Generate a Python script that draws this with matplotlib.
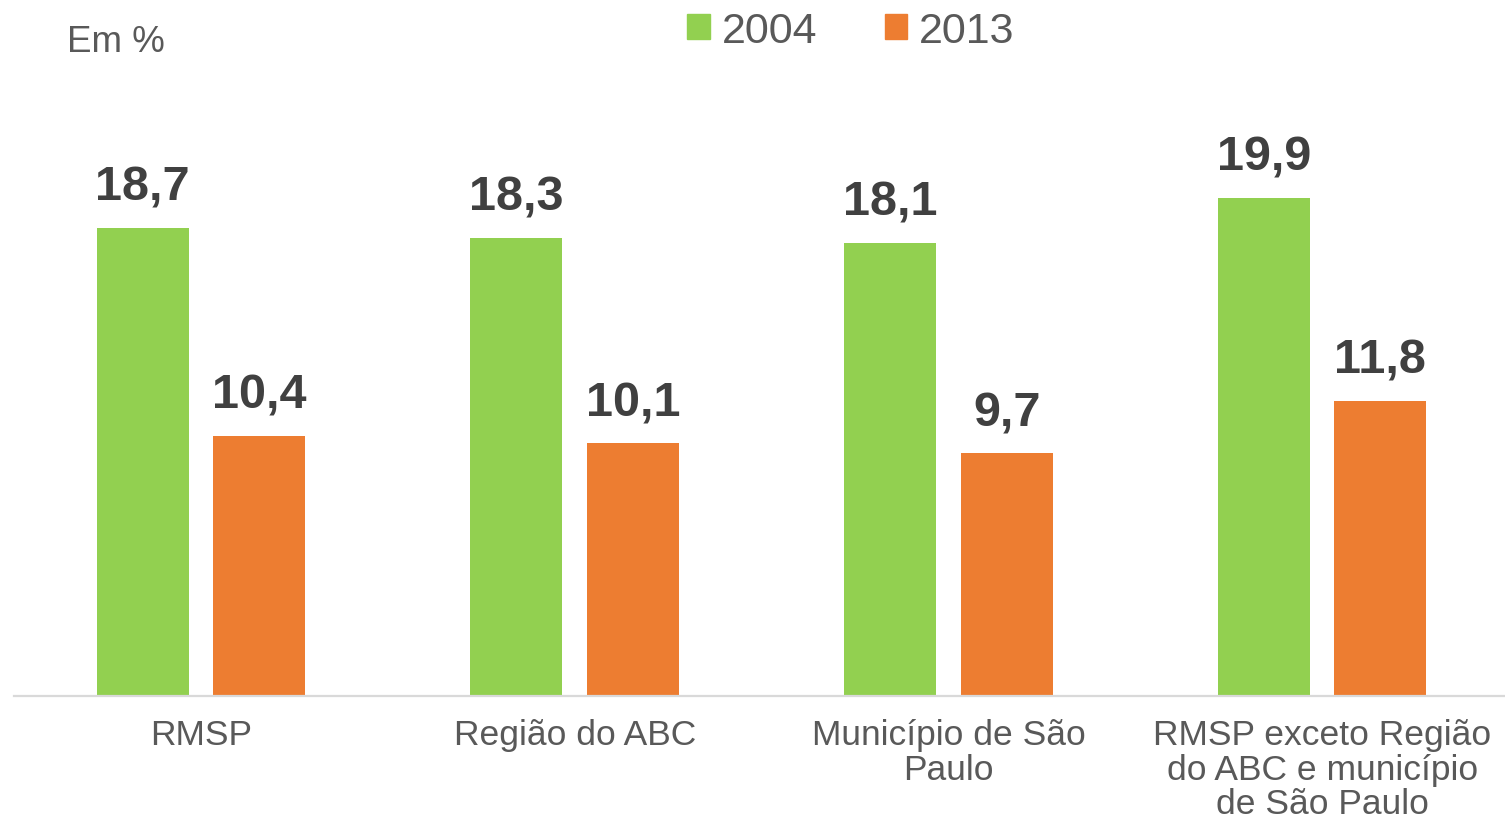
import matplotlib.pyplot as plt
import numpy as np

plt.rcParams['font.family'] = ['Liberation Sans', 'DejaVu Sans']

# Data
categorias = ['RMSP', 'Região do ABC', 'Município de São\nPaulo',
              'RMSP exceto Região\ndo ABC e município\nde São Paulo']
anos = ['2004', '2013']
valores_2004 = [18.7, 18.3, 18.1, 19.9]
valores_2013 = [10.4, 10.1, 9.7, 11.8]

cores = ['#92D050', '#ED7D31']

fig = plt.figure(figsize=(15.05, 8.29), dpi=100)
ax = fig.add_axes([14 / 1505, 132 / 829, 1495 / 1505, 697 / 829])

x = np.arange(len(categorias))
largura = 0.246
desloc = 0.156

for serie, cor, sinal in [(valores_2004, cores[0], -1), (valores_2013, cores[1], 1)]:
    barras = ax.bar(x + sinal * desloc, serie, width=largura, color=cor)
    for b, v in zip(barras, serie):
        ax.annotate(f'{v:.1f}'.replace('.', ','),
                    (b.get_x() + b.get_width() / 2, v),
                    xytext=(0, 13), textcoords='offset points',
                    ha='center', va='bottom', fontsize=35, fontweight='bold',
                    color='#404040')

ax.set_xlim(-0.5, 3.5)
ax.set_ylim(0, 697 / 25.03)
ax.set_xticks(x)
ax.set_xticklabels(categorias, fontsize=25.5, color='#595959', linespacing=1.05)
ax.tick_params(axis='x', length=0, pad=16)
ax.set_yticks([])
for lado in ['top', 'right', 'left']:
    ax.spines[lado].set_visible(False)
ax.spines['bottom'].set_color('#D9D9D9')
ax.spines['bottom'].set_linewidth(1.6)

# Legend
alcas = [plt.Rectangle((0, 0), 1, 1, color=c) for c in cores]
fig.legend(alcas, anos, loc='center', bbox_to_anchor=(851 / 1505, 1 - 32 / 829),
           ncol=2, frameon=False, fontsize=31, labelcolor='#595959',
           handlelength=0.52, handleheight=0.52, handletextpad=0.28,
           columnspacing=1.56)

fig.text(67 / 1505, 1 - 43 / 829, 'Em %', fontsize=26.5, color='#595959',
         ha='left', va='center')

fig.savefig('out.png', dpi=100)
